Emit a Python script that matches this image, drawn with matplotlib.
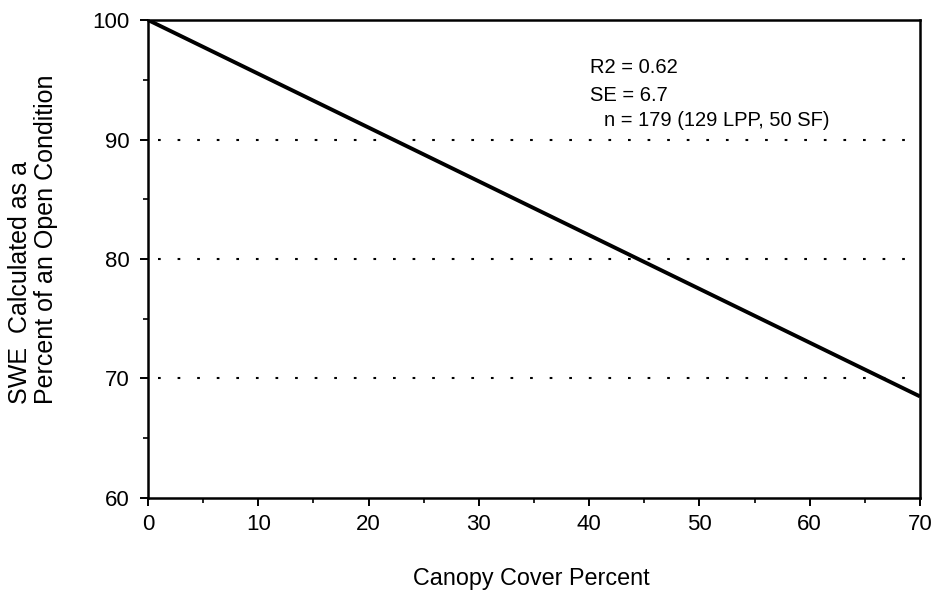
import matplotlib
matplotlib.use("Agg")
import matplotlib.pyplot as plt
from matplotlib.ticker import MultipleLocator

# Data
canopy_cover = [0, 70]
swe_percent = [100, 68.5]
grid_levels = [70, 80, 90]
x_ticks = [0, 10, 20, 30, 40, 50, 60, 70]
y_ticks = [60, 70, 80, 90, 100]
stats_lines = ["R2 = 0.62", "SE = 6.7", "n = 179 (129 LPP, 50 SF)"]

plt.rcParams['font.family'] = ['Liberation Sans', 'DejaVu Sans']

W, H = 934, 593
fig = plt.figure(figsize=(W/100, H/100), dpi=100)
L, R, T, B = 148, 920, 20, 498
ax = fig.add_axes([L/W, 1-B/H, (R-L)/W, (B-T)/H])

ax.plot(canopy_cover, swe_percent, color='black', lw=2.8, solid_capstyle='butt', zorder=3)
ax.hlines(grid_levels, 0.9, 70, colors='black', lw=1.5, linestyles=[(0, (1.3, 8.1))])

ax.set_xlim(0, 70)
ax.set_ylim(60, 100)
ax.set_xticks(x_ticks)
ax.set_yticks(y_ticks)
ax.xaxis.set_minor_locator(MultipleLocator(5))
ax.yaxis.set_minor_locator(MultipleLocator(5))
ax.tick_params(which='major', direction='out', length=5.5, width=1.4, labelsize=16)
ax.tick_params(which='minor', direction='out', length=3.5, width=1.2)
ax.tick_params(axis='x', which='major', pad=6)
ax.tick_params(axis='y', which='major', pad=8)
for s in ax.spines.values():
    s.set_linewidth(1.8)

fig.text(531/W, 1-578/H, "Canopy Cover Percent", ha='center', va='center', fontsize=16.8)
fig.text(20/W, 1-404/H, "SWE  Calculated as a", rotation=90, ha='center', va='bottom', fontsize=18)
fig.text(46/W, 1-404/H, "Percent of an Open Condition", rotation=90, ha='center', va='bottom', fontsize=18)

xs = [590, 590, 604]
ys = [73, 101, 126]
for t, xx, yy in zip(stats_lines, xs, ys):
    fig.text(xx/W, 1-yy/H, t, ha='left', va='baseline', fontsize=14.5)

fig.savefig("out.png", dpi=100)
